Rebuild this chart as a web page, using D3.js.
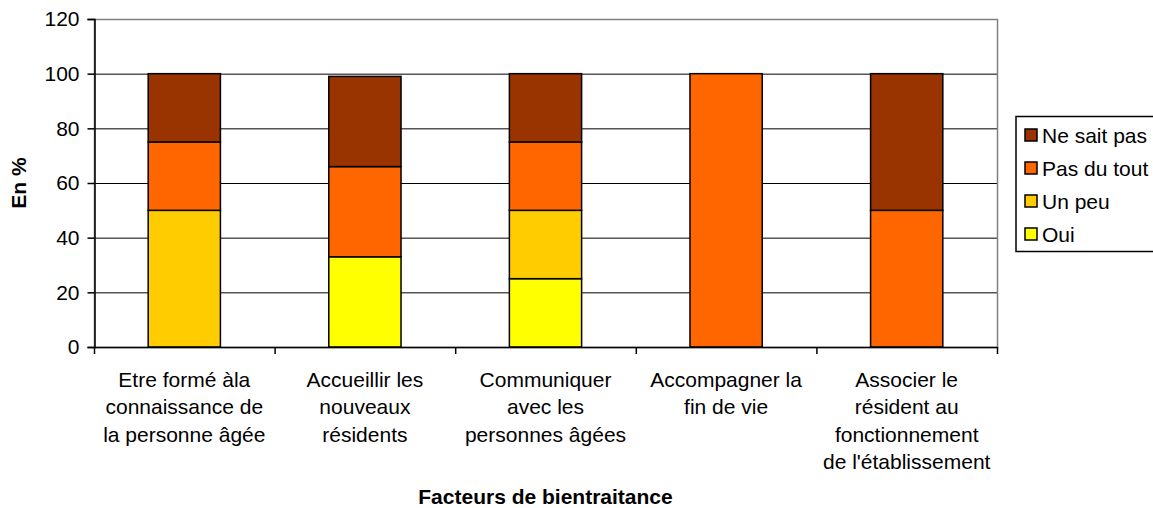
<!DOCTYPE html>
<html>
<head>
<meta charset="utf-8">
<script src="https://cdn.jsdelivr.net/npm/d3@7"></script>
<style>
  body { margin: 0; background: #fff; }
  svg text { font-family: "Liberation Sans", Arial, sans-serif; fill: #000; }
</style>
</head>
<body>
<div id="chart"></div>
<script>
var categories = [
    ["Etre formé àla", "connaissance de", "la personne âgée"],
    ["Accueillir les", "nouveaux", "résidents"],
    ["Communiquer", "avec les", "personnes âgées"],
    ["Accompagner la", "fin de vie"],
    ["Associer le", "résident au", "fonctionnement", "de l'établissement"]
];
var seriesNames = ["Oui", "Un peu", "Pas du tout", "Ne sait pas"];
var oui = [0, 33, 25, 0, 0];
var unPeu = [50, 0, 25, 0, 0];
var pasDuTout = [25, 33, 25, 100, 50];
var neSaitPas = [25, 33, 25, 0, 50];
var yTicks = [0, 20, 40, 60, 80, 100, 120];

var colors = ["#FFFF00", "#FFCC00", "#FF6600", "#993300"];

var width = 1153, height = 508;
var margin = { left: 94, top: 19, right: 156, bottom: 161 };

var svg = d3.select("#chart").append("svg")
    .attr("width", width)
    .attr("height", height);

var x = d3.scaleBand()
    .domain(d3.range(categories.length))
    .range([margin.left, width - margin.right])
    .paddingInner(0.6)
    .paddingOuter(0.3);

var y = d3.scaleLinear()
    .domain([0, 120])
    .range([height - margin.bottom, margin.top]);

var rows = categories.map((c, i) => ({
    i: i, "Oui": oui[i], "Un peu": unPeu[i], "Pas du tout": pasDuTout[i], "Ne sait pas": neSaitPas[i]
}));
var stack = d3.stack().keys(seriesNames)(rows);

// gridlines
svg.append("g")
    .selectAll("line")
    .data(yTicks.filter(t => t > 0 && t < 120))
    .enter().append("line")
    .attr("x1", margin.left).attr("x2", width - margin.right)
    .attr("y1", d => y(d) + 0.5).attr("y2", d => y(d) + 0.5)
    .attr("stroke", "#000").attr("stroke-width", 1);

// plot border (grey)
svg.append("rect")
    .attr("x", margin.left + 0.5).attr("y", y(120) + 0.5)
    .attr("width", width - margin.right - margin.left)
    .attr("height", y(0) - y(120))
    .attr("fill", "none").attr("stroke", "#808080").attr("stroke-width", 1.5);

// bars
svg.append("g")
    .selectAll("g")
    .data(stack)
    .enter().append("g")
    .attr("fill", (d, i) => colors[i])
    .selectAll("rect")
    .data(d => d.filter(p => p[1] - p[0] > 0))
    .enter().append("rect")
    .attr("x", d => x(d.data.i))
    .attr("y", d => y(d[1]))
    .attr("width", x.bandwidth())
    .attr("height", d => y(d[0]) - y(d[1]))
    .attr("stroke", "#000")
    .attr("stroke-width", 1.5);

// y axis
var yAxis = svg.append("g")
    .attr("transform", "translate(" + (margin.left + 0.5) + ",0)")
    .call(d3.axisLeft(y).tickValues(yTicks).tickSize(7).tickPadding(8));
yAxis.select(".domain").attr("stroke", "#000").attr("stroke-width", 1.5);
yAxis.selectAll(".tick line").attr("stroke", "#000").attr("stroke-width", 1.5);
yAxis.selectAll("text").style("font-size", "21px").attr("fill", "#000");

// x axis: ticks at category boundaries
var bounds = d3.range(categories.length + 1).map(i => margin.left + i * (width - margin.right - margin.left) / categories.length);
svg.append("line")
    .attr("x1", margin.left).attr("x2", width - margin.right)
    .attr("y1", y(0) + 0.5).attr("y2", y(0) + 0.5)
    .attr("stroke", "#000").attr("stroke-width", 1.5);
svg.append("g").selectAll("line")
    .data(bounds)
    .enter().append("line")
    .attr("x1", d => d + 0.5).attr("x2", d => d + 0.5)
    .attr("y1", y(0)).attr("y2", y(0) + 7)
    .attr("stroke", "#000").attr("stroke-width", 1.5);

// category labels
svg.append("g").selectAll("text")
    .data(categories)
    .enter().append("text")
    .attr("text-anchor", "middle")
    .style("font-size", "21px")
    .each(function (lines, i) {
        var cx = x(i) + x.bandwidth() / 2;
        d3.select(this).selectAll("tspan")
            .data(lines)
            .enter().append("tspan")
            .attr("x", cx)
            .attr("y", (d, j) => 387 + j * 27.3)
            .text(d => d);
    });

// axis titles
svg.append("text")
    .attr("x", (margin.left + width - margin.right) / 2)
    .attr("y", 504)
    .attr("text-anchor", "middle")
    .style("font-size", "21px")
    .style("font-weight", "bold")
    .text("Facteurs de bientraitance");

svg.append("text")
    .attr("transform", "translate(26," + y(60) + ") rotate(-90)")
    .attr("text-anchor", "middle")
    .style("font-size", "21px")
    .style("font-weight", "bold")
    .text("En %");

// legend
var legend = svg.append("g");
legend.append("rect")
    .attr("x", 1016).attr("y", 116.5)
    .attr("width", 150).attr("height", 135)
    .attr("fill", "#fff").attr("stroke", "#000").attr("stroke-width", 1.5);
var legendItems = seriesNames.slice().reverse();
var li = legend.selectAll("g.item")
    .data(legendItems)
    .enter().append("g")
    .attr("transform", (d, i) => "translate(1025," + (143 + i * 33) + ")");
li.append("rect")
    .attr("x", 0).attr("y", -14)
    .attr("width", 12).attr("height", 12)
    .attr("fill", d => colors[seriesNames.indexOf(d)])
    .attr("stroke", "#000").attr("stroke-width", 1.5);
li.append("text")
    .attr("x", 17).attr("y", 0)
    .style("font-size", "21px")
    .text(d => d);
</script>
</body>
</html>
